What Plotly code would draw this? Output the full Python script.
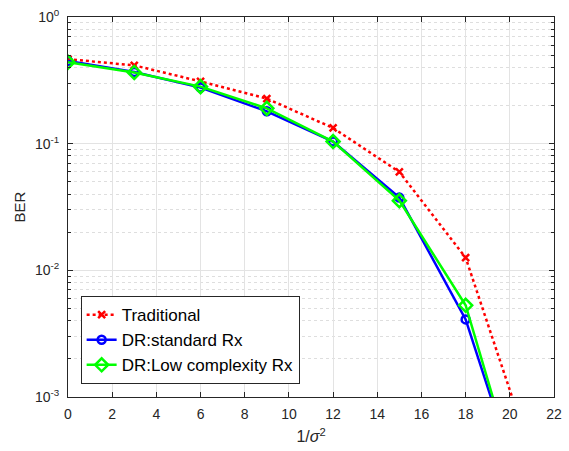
import plotly.graph_objects as go

# Inverse noise variance (1/sigma^2) sample points
snr = [0, 3, 6, 9, 12, 15, 18, 21]

# Bit error rate for each receiver
ber_traditional = [0.465, 0.415, 0.31, 0.227, 0.133, 0.0598, 0.0126, 3.4e-4]
ber_dr_standard = [0.45, 0.368, 0.277, 0.18, 0.104, 0.0375, 0.0041, 1.0e-4]
ber_dr_lowcomp = [0.44, 0.365, 0.282, 0.19, 0.104, 0.0355, 0.0053, 9.0e-5]

x_ticks = list(range(0, 23, 2))
y_major = [1e-3, 1e-2, 1e-1, 1e0]
y_major_text = ["10<sup>-3</sup>", "10<sup>-2</sup>", "10<sup>-1</sup>", "10<sup>0</sup>"]
y_minor = [k * 10.0 ** d for d in (-3, -2, -1) for k in range(2, 10)]

axis_color = "#262626"
font_family = "Liberation Sans, Arial, sans-serif"

fig = go.Figure()

fig.add_trace(go.Scatter(
    x=snr, y=ber_traditional, name="Traditional", mode="lines+markers",
    line=dict(color="#ff0000", width=2.5, dash="dot"),
    marker=dict(symbol="x-thin", size=7, color="#ff0000",
                line=dict(color="#ff0000", width=2.5)),
))
fig.add_trace(go.Scatter(
    x=snr, y=ber_dr_standard, name="DR:standard Rx", mode="lines+markers",
    line=dict(color="#0000ff", width=2.5),
    marker=dict(symbol="circle-open", size=8, color="#0000ff",
                line=dict(color="#0000ff", width=2.5)),
))
fig.add_trace(go.Scatter(
    x=snr, y=ber_dr_lowcomp, name="DR:Low complexity Rx", mode="lines+markers",
    line=dict(color="#00ff00", width=2.5),
    marker=dict(symbol="diamond-open", size=10, color="#00ff00",
                line=dict(color="#00ff00", width=2.5)),
))

fig.update_layout(
    width=569, height=451,
    margin=dict(l=68, r=7, t=10, b=54),
    paper_bgcolor="white", plot_bgcolor="white",
    font=dict(family=font_family, size=14, color=axis_color),
    showlegend=True,
    legend=dict(
        x=0.026, y=0.034, xanchor="left", yanchor="bottom",
        bgcolor="white", bordercolor="#262626", borderwidth=1,
        font=dict(family=font_family, size=17, color="#000000"),
        tracegroupgap=0, itemwidth=30,
    ),
)

fig.update_xaxes(
    range=[0, 22], tickmode="array", tickvals=x_ticks,
    ticks="inside", ticklen=5, tickcolor=axis_color,
    showline=True, linecolor=axis_color, linewidth=1, mirror="ticks",
    showgrid=True, gridcolor="#e3e3e3", gridwidth=1,
    zeroline=False, ticklabelstandoff=4,
    tickfont=dict(size=14, color=axis_color),
    title=dict(text="1/<i>σ</i><sup>2</sup>", font=dict(size=16, color=axis_color), standoff=10),
)

fig.update_yaxes(
    type="log", range=[-3, 0], tickmode="array",
    tickvals=y_major, ticktext=y_major_text,
    ticks="inside", ticklen=5, tickcolor=axis_color,
    showline=True, linecolor=axis_color, linewidth=1, mirror="ticks",
    showgrid=True, gridcolor="#e3e3e3", gridwidth=1,
    zeroline=False, ticklabelstandoff=5,
    tickfont=dict(size=14, color=axis_color),
    minor=dict(tickmode="array", tickvals=y_minor, ticks="inside", ticklen=3,
               tickcolor=axis_color, showgrid=True, gridcolor="#dedede",
               griddash="dot", gridwidth=1),
    title=dict(text="BER", font=dict(size=15, color=axis_color), standoff=5),
)

fig.write_html("out.html")
